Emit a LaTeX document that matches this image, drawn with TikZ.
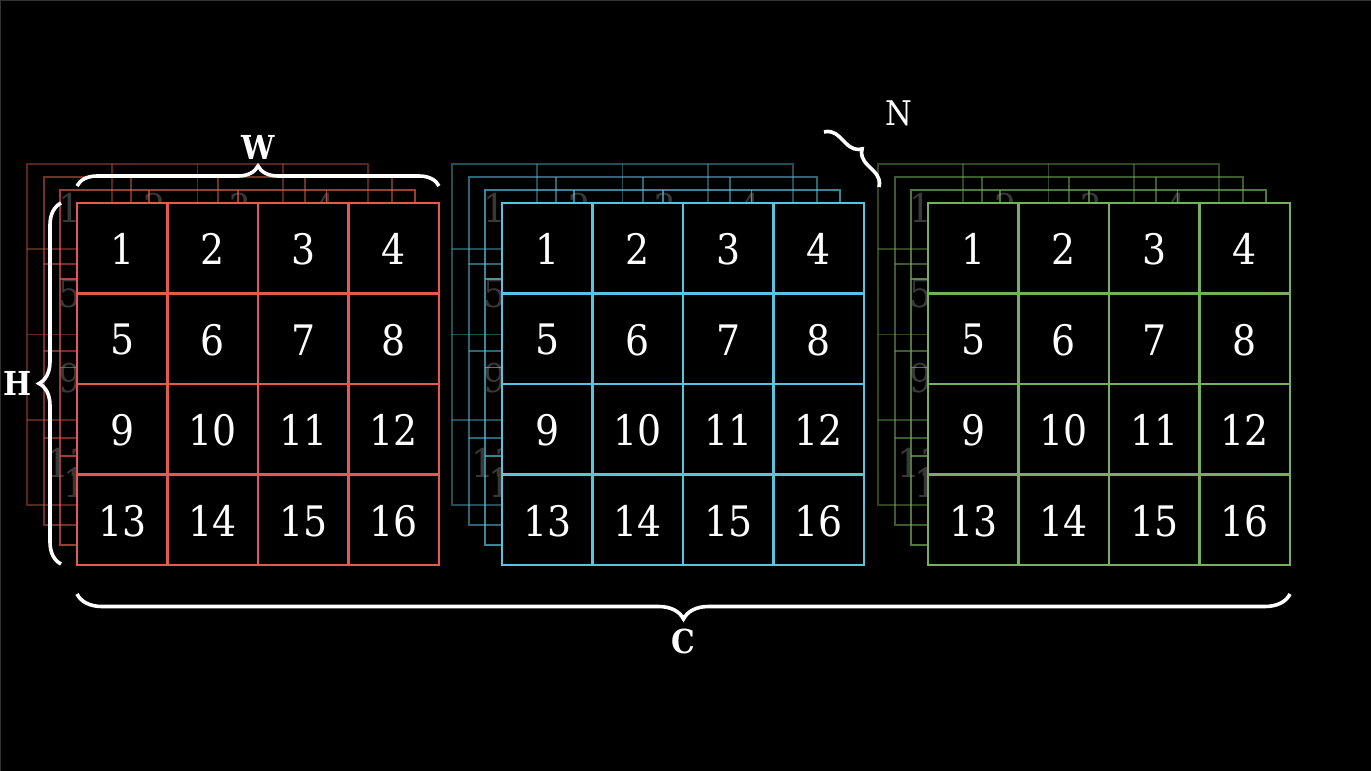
\documentclass[tikz,border=0pt]{standalone}
\usepackage{fontspec}
\setmainfont{DejaVu Serif}[FakeStretch=0.9]
\usetikzlibrary{decorations.pathreplacing}
\definecolor{myred}{HTML}{E65A4C}
\definecolor{myblue}{HTML}{58C4DD}
\definecolor{mygreen}{HTML}{77B05D}
\definecolor{backtext}{gray}{0.22}
\definecolor{frame}{gray}{0.2}
\tikzset{
  brc/.style={decorate, decoration={brace, amplitude=#1, aspect=0.5}, draw=white, line width=3.6pt},
  lbl/.style={text=white, font=\bfseries\fontsize{33}{33}\selectfont, inner sep=0pt},
  nlbl/.style={text=white, font=\fontsize{34}{34}\selectfont, inner sep=0pt},
  cellnum/.style={inner sep=0pt, anchor=center},
}
\begin{document}
\begin{tikzpicture}[x=1pt,y=-1pt]
\fill[black] (0,0) rectangle (1371,771);
\useasboundingbox (0,0) rectangle (1371,771);
\draw[frame, line width=2pt] (0,771) -- (0,0) -- (1371,0);

\foreach \sx/\col/\nm in {77/myred/r, 502/myblue/b, 928/mygreen/g} {
  \foreach \k/\op/\lw in {3/0.4/1.8pt, 2/0.52/1.8pt, 1/0.68/1.8pt, 0/1/2.1pt} {
    \pgfmathsetmacro{\L}{\sx-16.7*\k}
    \pgfmathsetmacro{\T}{203-13*\k}
    \pgfmathsetmacro{\c}{90.5-1.75*\k}
    \pgfmathsetmacro{\fs}{42*\c/90.5}
    \ifnum\k=0
      \fill[black] (\L,\T) rectangle ++(4*\c,4*\c);
      \def\tc{white}
    \else
      \def\tc{backtext}
    \fi
    \foreach \i in {0,...,3} {
      \foreach \j in {0,...,3} {
        \pgfmathtruncatemacro{\n}{4*\i+\j+1}
        \node[cellnum, text=\tc, font=\fontsize{\fs}{\fs}\selectfont]
          (\nm-\k-\n) at (\L+\c*\j+\c/2, \T+\c*\i+\c/2+1) {\n};
      }
    }
    \draw[\col, draw opacity=\op, line width=\lw] (\L,\T) rectangle ++(4*\c,4*\c);
    \foreach \m in {1,2,3} {
      \draw[\col, draw opacity=\op, line width=\lw] (\L+\m*\c,\T) -- ++(0,4*\c);
      \draw[\col, draw opacity=\op, line width=\lw] (\L,\T+\m*\c) -- ++(4*\c,0);
    }
  }
}

% braces
\coordinate (wA) at (77,186);
\coordinate (wB) at (439,186);
\draw[brc=20pt] (wA) -- (wB);
\node[lbl] (wlab) at (258,147) {W};

\coordinate (hA) at (61,564);
\coordinate (hB) at (61,203);
\draw[brc=22pt] (hA) -- (hB);
\node[lbl] (hlab) at (18,383) {H};

\coordinate (cA) at (1290,594);
\coordinate (cB) at (77,594);
\draw[brc=25pt] (cA) -- (cB);
\node[lbl] (clab) at (683,641) {C};

\coordinate (nA) at (824,132);
\coordinate (nB) at (879,187);
\draw[brc=15pt] (nA) -- (nB);
\node[nlbl] (nlab) at (899,113) {N};
\end{tikzpicture}
\end{document}
